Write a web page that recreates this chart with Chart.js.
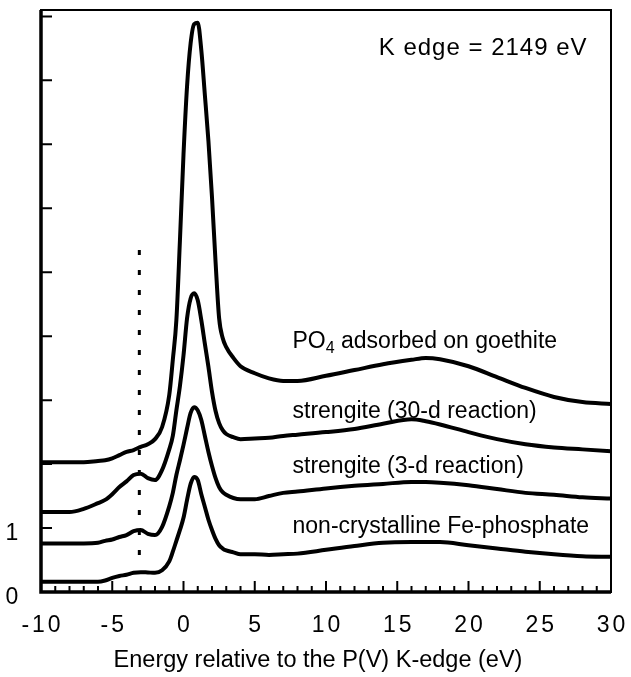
<!DOCTYPE html>
<html lang="en">
<head>
<meta charset="UTF-8">
<title>P K-edge XANES</title>
<script src="https://cdn.jsdelivr.net/npm/chart.js"></script>
<style>
  html, body { margin: 0; padding: 0; background: #fff; }
  #xanes { display: block; }
</style>
</head>
<body>
<canvas id="xanes" width="631" height="677"></canvas>
<script>
// energy grid (eV, relative to the P(V) K-edge)
const energy = [-10, -9, -8, -7, -6, -5.5, -5, -4.5, -4, -3.5, -3, -2.5, -2, -1.5, -1, -0.75, -0.5, -0.25,
  0, 0.25, 0.5, 0.75, 1, 1.25, 1.5, 1.75, 2, 2.25, 2.5, 2.75, 3, 3.5, 4, 5, 6, 7, 8,
  10, 12, 14, 16, 17, 18, 20, 22, 24, 26, 28, 30];

// stacked spectra (offset already included), top to bottom
const goethite = [2.03, 2.03, 2.03, 2.03, 2.05, 2.06, 2.09, 2.14, 2.19, 2.22, 2.27, 2.31, 2.39, 2.58, 3.08, 3.63, 4.25, 5.5,
  6.84, 7.91, 8.58, 8.88, 8.9, 8.47, 7.77, 7.05, 6.17, 5.16, 4.28, 3.97, 3.83, 3.66, 3.53, 3.42, 3.34, 3.30, 3.30,
  3.38, 3.47, 3.56, 3.63, 3.66, 3.64, 3.53, 3.36, 3.19, 3.05, 2.97, 2.94];
const strengite30 = [1.25, 1.25, 1.25, 1.30, 1.39, 1.44, 1.53, 1.64, 1.73, 1.83, 1.85, 1.78, 1.75, 1.91, 2.23, 2.44, 2.84, 3.22,
  3.70, 4.28, 4.59, 4.67, 4.56, 4.25, 3.88, 3.52, 3.13, 2.83, 2.64, 2.53, 2.47, 2.42, 2.39, 2.40, 2.41, 2.44, 2.46,
  2.50, 2.55, 2.63, 2.70, 2.67, 2.62, 2.50, 2.39, 2.31, 2.26, 2.23, 2.20];
const strengite3 = [0.76, 0.76, 0.76, 0.76, 0.77, 0.80, 0.82, 0.86, 0.89, 0.95, 0.97, 0.91, 0.89, 1.02, 1.34, 1.55, 1.83, 2.06,
  2.30, 2.56, 2.80, 2.89, 2.84, 2.69, 2.44, 2.19, 1.97, 1.78, 1.64, 1.56, 1.52, 1.47, 1.45, 1.45, 1.50, 1.55, 1.57,
  1.62, 1.66, 1.69, 1.72, 1.72, 1.71, 1.67, 1.61, 1.55, 1.52, 1.48, 1.46];
const amorphous = [0.16, 0.16, 0.16, 0.16, 0.16, 0.18, 0.22, 0.25, 0.27, 0.30, 0.31, 0.305, 0.30, 0.34, 0.48, 0.63, 0.80, 0.97,
  1.16, 1.44, 1.69, 1.80, 1.75, 1.53, 1.33, 1.13, 0.97, 0.83, 0.73, 0.68, 0.65, 0.62, 0.59, 0.59, 0.58, 0.59, 0.60,
  0.66, 0.72, 0.77, 0.78, 0.78, 0.78, 0.73, 0.68, 0.63, 0.59, 0.56, 0.55];

// dotted marker of the pre-edge feature
const markerX = [-3.1, -3.1];
const markerY = [0.58, 5.4];

const seriesNames = ['PO4 adsorbed on goethite', 'strengite (30-d reaction)', 'strengite (3-d reaction)', 'non-crystalline Fe-phosphate'];
const xTickValues = [-10, -5, 0, 5, 10, 15, 20, 25, 30];
const xTickLabels = ['-10', '-5', '0', '5', '10', '15', '20', '25', '30'];
const yTickValues = [0, 1, 2, 3, 4, 5, 6, 7, 8, 9];
const yTickLabels = ['0', '1', '', '', '', '', '', '', '', ''];

const FONT = '"Liberation Sans", Arial, Helvetica, sans-serif';
const pts = (xs, ys) => xs.map((v, i) => ({ x: v, y: ys[i] }));

const curve = (name, ys) => ({
  label: name,
  data: pts(energy, ys),
  borderColor: '#000',
  borderWidth: 4,
  pointRadius: 0,
  cubicInterpolationMode: 'monotone',
  borderCapStyle: 'round',
  borderJoinStyle: 'round',
  fill: false
});

// axes frame, inward ticks and all text
const decor = {
  id: 'decor',
  afterDraw(chart) {
    const { ctx, chartArea: a, scales: { x, y } } = chart;
    ctx.save();
    ctx.strokeStyle = '#000';
    ctx.fillStyle = '#000';

    // frame
    ctx.lineWidth = 2;
    ctx.strokeRect(a.left, a.top, a.right - a.left, a.bottom - a.top);
    ctx.lineWidth = 3.5;
    ctx.beginPath();
    ctx.moveTo(a.left, a.top);
    ctx.lineTo(a.left, a.bottom);
    ctx.lineTo(a.right, a.bottom);
    ctx.stroke();

    // ticks
    ctx.lineWidth = 2;
    ctx.beginPath();
    for (let e = x.min; e <= x.max; e++) {
      const px = x.getPixelForValue(e);
      const len = e % 5 === 0 ? 11 : 6;
      ctx.moveTo(px, a.bottom);
      ctx.lineTo(px, a.bottom - len);
    }
    yTickValues.forEach(v => {
      const py = y.getPixelForValue(v);
      ctx.moveTo(a.left, py);
      ctx.lineTo(a.left + 11, py);
    });
    ctx.stroke();

    // tick labels
    ctx.font = '23px ' + FONT;
    ctx.textBaseline = 'middle';
    ctx.textAlign = 'center';
    ctx.letterSpacing = '3px';
    xTickValues.forEach((v, i) => {
      let px = x.getPixelForValue(v);
      const w = ctx.measureText(xTickLabels[i]).width;
      px = Math.min(px, chart.width - 2 - w / 2);
      ctx.fillText(xTickLabels[i], px + 1.5, a.bottom + 34);
    });
    ctx.letterSpacing = '0px';
    yTickValues.forEach((v, i) => {
      if (yTickLabels[i]) ctx.fillText(yTickLabels[i], 12, y.getPixelForValue(v) + 6);
    });

    // axis title
    ctx.font = '23.5px ' + FONT;
    ctx.fillText('Energy relative to the P(V) K-edge (eV)', 318, 661);

    // edge energy
    ctx.textAlign = 'left';
    ctx.font = '24px ' + FONT;
    ctx.letterSpacing = '1px';
    ctx.fillText('K edge = 2149 eV', x.getPixelForValue(13.7), y.getPixelForValue(8.5));
    ctx.letterSpacing = '0px';

    // curve labels
    const lx = x.getPixelForValue(7.65);
    const ly = [3.91, 2.82, 1.96, 1.02].map(v => y.getPixelForValue(v));
    ctx.font = '23px ' + FONT;
    ctx.fillText('PO', lx, ly[0]);
    let w = ctx.measureText('PO').width;
    ctx.font = '16px ' + FONT;
    ctx.fillText('4', lx + w, ly[0] + 7);
    w += ctx.measureText('4').width;
    ctx.font = '23px ' + FONT;
    ctx.fillText(' adsorbed on goethite', lx + w, ly[0]);
    for (let i = 1; i < 4; i++) ctx.fillText(seriesNames[i], lx, ly[i]);

    ctx.restore();
  }
};

new Chart(document.getElementById('xanes'), {
  type: 'line',
  data: {
    datasets: [
      curve(seriesNames[0], goethite),
      curve(seriesNames[1], strengite30),
      curve(seriesNames[2], strengite3),
      curve(seriesNames[3], amorphous),
      {
        label: 'pre-edge',
        data: pts(markerX, markerY),
        borderColor: '#000',
        borderWidth: 3,
        borderDash: [5, 15],
        pointRadius: 0,
        fill: false
      }
    ]
  },
  options: {
    responsive: false,
    animation: false,
    layout: { padding: { left: 41, right: 20, top: 10, bottom: 85 } },
    plugins: { legend: { display: false }, tooltip: { enabled: false } },
    scales: {
      x: { type: 'linear', min: -10, max: 30, display: false },
      y: { type: 'linear', min: 0, max: 9.1, display: false }
    }
  },
  plugins: [decor]
});
</script>
</body>
</html>
